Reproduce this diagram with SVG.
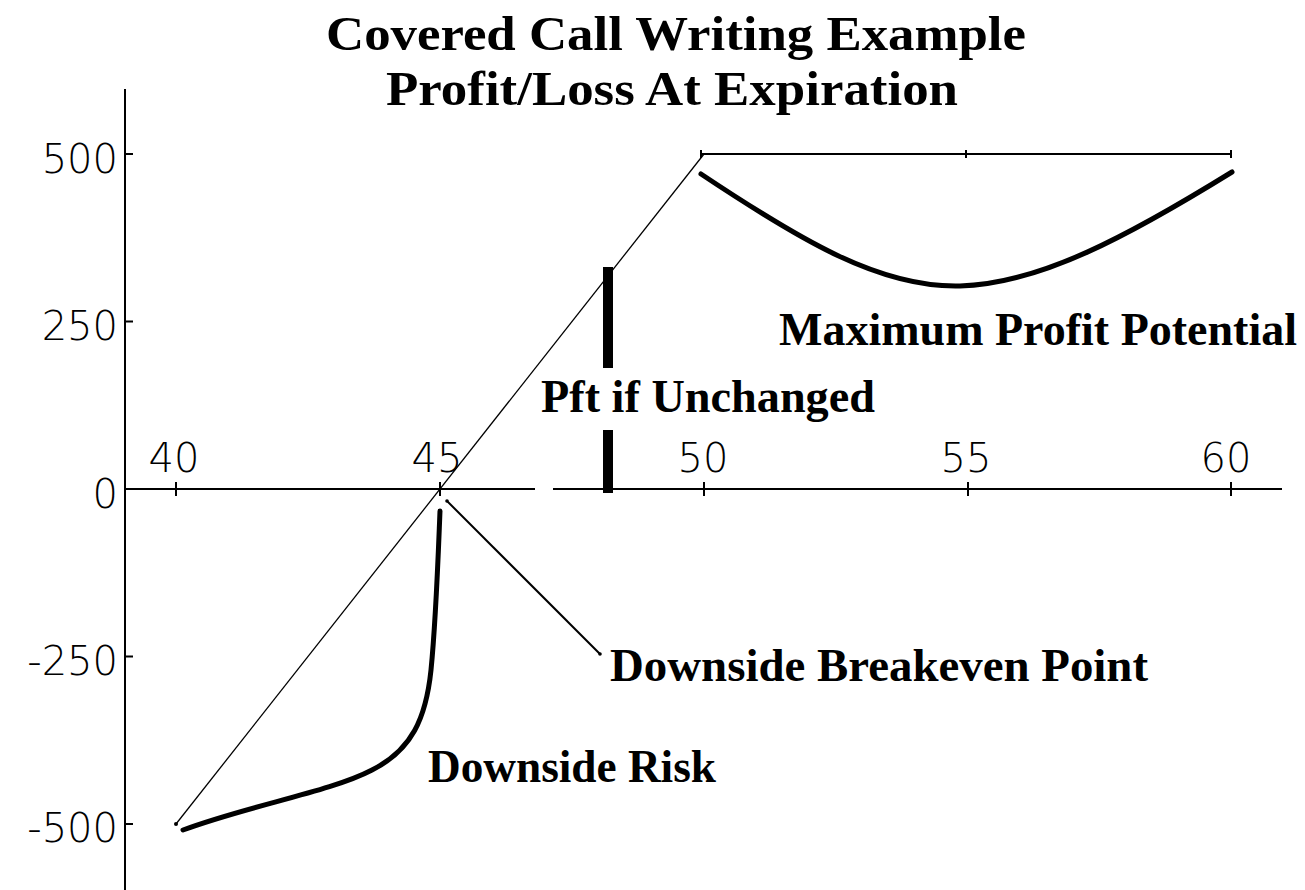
<svg xmlns="http://www.w3.org/2000/svg" width="1305" height="890" viewBox="0 0 1305 890">
<style>
.ax{stroke:#000;stroke-width:2;fill:none}
.thin{stroke:#000;stroke-width:1.3;fill:none}
.thick{stroke:#000;stroke-width:5;fill:none;stroke-linecap:round;stroke-linejoin:round}
.num{font-family:"DejaVu Sans",sans-serif;font-weight:200;font-size:40px;fill:#000}
.lbl{font-family:"Liberation Serif","Times New Roman",serif;font-weight:bold;font-size:46px;fill:#000}
.ttl{font-family:"Liberation Serif","Times New Roman",serif;font-weight:bold;font-size:49px;fill:#000}
</style>
<rect width="1305" height="890" fill="#fff"/>
<g id="title">
<text class="ttl" x="676" y="50" text-anchor="middle" textLength="700" lengthAdjust="spacingAndGlyphs">Covered Call Writing Example</text>
<text class="ttl" x="672" y="105" text-anchor="middle" textLength="572" lengthAdjust="spacingAndGlyphs">Profit/Loss At Expiration</text>
</g>
<g id="axes">
<line class="ax" x1="125" y1="89" x2="125" y2="890"/>
<path class="ax" d="M125,154h8M125,321.5h8M125,656.5h8M125,824h8"/>
<line class="ax" x1="125" y1="489" x2="535" y2="489"/>
<line class="ax" x1="553" y1="489" x2="1282" y2="489"/>
<path class="ax" d="M176,482v14M440,482v14M704,482v14M968,482v14M1231,482v14"/>
<g class="num" text-anchor="end">
<text x="118" y="173">500</text>
<text x="118" y="340">250</text>
<text x="118" y="508">0</text>
<text x="118" y="675">-250</text>
<text x="118" y="842">-500</text>
</g>
<g class="num" text-anchor="middle">
<text x="174" y="472">40</text>
<text x="437" y="472">45</text>
<text x="703" y="472">50</text>
<text x="966" y="472">55</text>
<text x="1226" y="472">60</text>
</g>
</g>
<g id="connectors">
<line class="thin" x1="176" y1="824" x2="704" y2="154"/>
<circle cx="176" cy="824" r="2" fill="#000"/>
<line class="ax" x1="701" y1="154" x2="1231" y2="154"/>
<path class="ax" d="M701,150v8M966,150v8M1231,150v8"/>
<line class="ax" x1="447" y1="501" x2="600" y2="654"/>
<circle cx="447" cy="501" r="1.8" fill="#000"/>
<circle cx="600" cy="654" r="1.8" fill="#000"/>
<rect x="603" y="267" width="10" height="101" fill="#000"/>
<rect x="603" y="430" width="10" height="63" fill="#000"/>
</g>
<g id="max-profit-curve">
<path class="thick" d="M701,174 C800,240 880,288 960,286 C1040,284 1130,235 1232,172"/>
</g>
<g id="downside-risk-curve">
<path class="thick" stroke-width="4.5" d="M183,830 C250,805 330,792 372,770 C412,750 426,718 431,670 C436,620 438,560 440,511"/>
</g>
<g id="labels">
<text class="lbl" x="779" y="345" textLength="518" lengthAdjust="spacingAndGlyphs">Maximum Profit Potential</text>
<text class="lbl" x="541" y="412" textLength="334" lengthAdjust="spacingAndGlyphs">Pft if Unchanged</text>
<text class="lbl" x="610" y="681" textLength="538" lengthAdjust="spacingAndGlyphs">Downside Breakeven Point</text>
<text class="lbl" x="428" y="782" textLength="288" lengthAdjust="spacingAndGlyphs">Downside Risk</text>
</g>
</svg>
